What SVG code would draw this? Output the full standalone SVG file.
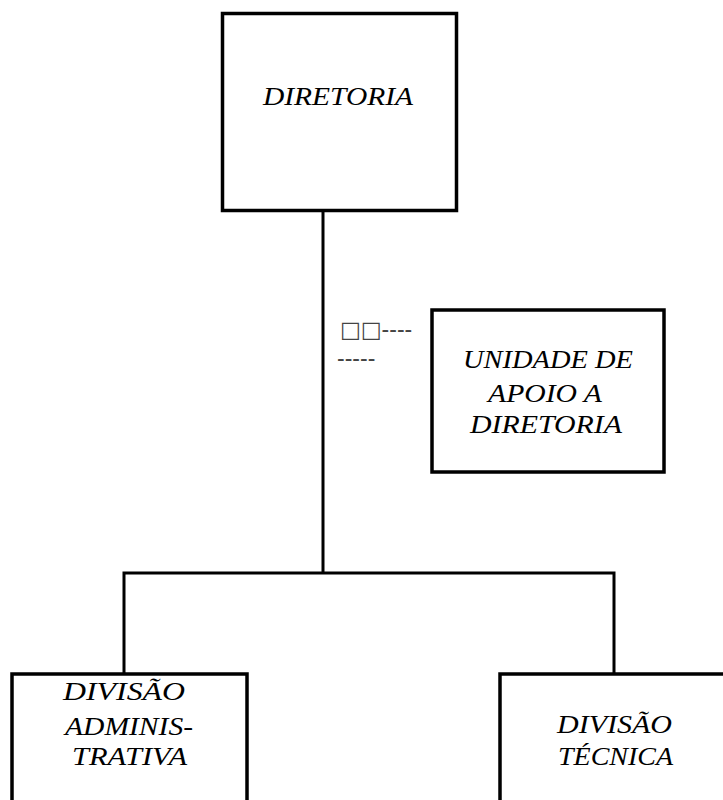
<svg xmlns="http://www.w3.org/2000/svg" width="723" height="800" viewBox="0 0 723 800">
<style>
.box{fill:#fff;stroke:#000;stroke-width:3.5}
.conn{fill:none;stroke:#000;stroke-width:3}
.lbl{font-family:"Liberation Serif","DejaVu Serif",serif;font-style:italic;font-size:25px;fill:#000}
.note{font-family:"Liberation Sans","DejaVu Sans",sans-serif;font-size:23px;fill:#444}
.tofu{font-family:"DejaVu Sans",sans-serif;font-size:22px}
</style>
<rect width="723" height="800" fill="#fff"/>
<g id="connectors">
<path class="conn" d="M323 211 V573 M124 573 H614 M124 571.5 V674 M614 571.5 V674"/>
</g>
<g id="diretoria">
<rect class="box" x="222.5" y="13.5" width="234" height="197"/>
<text class="lbl" x="263" y="105" textLength="150" lengthAdjust="spacingAndGlyphs">DIRETORIA</text>
</g>
<g id="unidade-apoio">
<rect class="box" x="432" y="310" width="232" height="162"/>
<text class="lbl" x="463" y="368" textLength="170" lengthAdjust="spacingAndGlyphs">UNIDADE DE</text>
<text class="lbl" x="488" y="402" textLength="114" lengthAdjust="spacingAndGlyphs">APOIO A</text>
<text class="lbl" x="470" y="433" textLength="152" lengthAdjust="spacingAndGlyphs">DIRETORIA</text>
</g>
<g id="note">
<text class="note" x="340" y="337"><tspan class="tofu">□□</tspan>----</text>
<text class="note" x="337" y="366">-----</text>
</g>
<g id="divisao-administrativa">
<rect class="box" x="12" y="674" width="235" height="140"/>
<text class="lbl" x="63" y="700" textLength="122" lengthAdjust="spacingAndGlyphs">DIVISÃO</text>
<text class="lbl" x="65" y="735" textLength="128" lengthAdjust="spacingAndGlyphs">ADMINIS-</text>
<text class="lbl" x="72" y="765" textLength="115" lengthAdjust="spacingAndGlyphs">TRATIVA</text>
</g>
<g id="divisao-tecnica">
<rect class="box" x="500" y="674" width="240" height="140"/>
<text class="lbl" x="557" y="733" textLength="115" lengthAdjust="spacingAndGlyphs">DIVISÃO</text>
<text class="lbl" x="558" y="765" textLength="115" lengthAdjust="spacingAndGlyphs">TÉCNICA</text>
</g>
</svg>
